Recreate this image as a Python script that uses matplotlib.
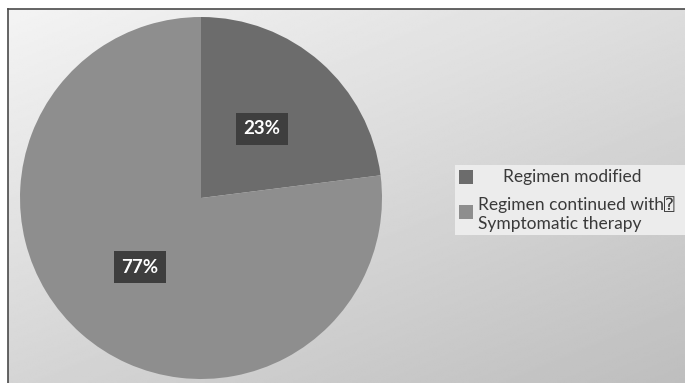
import numpy as np
import matplotlib.pyplot as plt
from matplotlib.patches import Rectangle

# Dados do gráfico
categorias = ["Regimen modified", "Regimen continued with\u2370\nSymptomatic therapy"]
percentuais = [23, 77]
cores = ["#6c6c6c", "#8e8e8e"]

W, H = 685, 383
fig = plt.figure(figsize=(W / 100, H / 100), dpi=100)
fig.patch.set_facecolor("white")

# Fundo em degradê dentro da moldura
bg = fig.add_axes([8 / W, 0, 1 - 8 / W, (H - 9) / H])
yy, xx = np.mgrid[0:1:200j, 0:1:300j]
grad = 0.955 - 0.09 * xx - 0.12 * yy
bg.imshow(grad, cmap="gray", vmin=0, vmax=1, aspect="auto",
          extent=[0, 1, 1, 0], interpolation="bilinear")
bg.set_xlim(0, 1)
bg.set_ylim(1, 0)
bg.set_xticks([])
bg.set_yticks([])
for lado in ["right", "bottom"]:
    bg.spines[lado].set_visible(False)
for lado in ["left", "top"]:
    bg.spines[lado].set_color("#4a4a4a")
    bg.spines[lado].set_linewidth(1.2)

# Pizza
cx, cy, r = 201, 198, 181
ax = fig.add_axes([(cx - r) / W, (H - cy - r) / H, 2 * r / W, 2 * r / H])
wedges, textos = ax.pie(percentuais, colors=cores, startangle=90, counterclock=False,
                        labels=[f"{p}%" for p in percentuais], labeldistance=0.51,
                        wedgeprops=dict(linewidth=0))
for t in textos:
    t.set_ha("center")
    t.set_va("center")
    t.set_color("white")
    t.set_fontweight("bold")
    t.set_fontsize(13.5)
    t.set_family(["Lato", "DejaVu Sans"])
    t.set_bbox(dict(boxstyle="square,pad=0.4", facecolor="#3e3e3e", edgecolor="none"))
ax.set_xlim(-1, 1)
ax.set_ylim(-1, 1)
ax.set_aspect("equal")
ax.axis("off")

# Legenda
fig.patches.append(Rectangle((455 / W, 1 - 235 / H), 230 / W, 70 / H,
                             transform=fig.transFigure, facecolor="#ececec",
                             edgecolor="none", zorder=1))
fonte = ["Lato", "DejaVu Sans", "DejaVu Sans Mono"]
marcas_y = [177, 211.5]
for cor, nome, my in zip(cores, categorias, marcas_y):
    fig.patches.append(Rectangle((459 / W, 1 - (my + 7) / H), 14 / W, 14 / H,
                                 transform=fig.transFigure, facecolor=cor,
                                 edgecolor="none", zorder=2))
fig.text(572 / W, 1 - 177 / H, categorias[0], ha="center", va="center",
         fontsize=12.5, color="#3a3a3a", family=fonte, zorder=3)
fig.text(478 / W, 1 - 214 / H, categorias[1], ha="left", va="center",
         fontsize=12.5, color="#3a3a3a", family=fonte, linespacing=1.25, zorder=3)

fig.savefig("out.png", dpi=100)
